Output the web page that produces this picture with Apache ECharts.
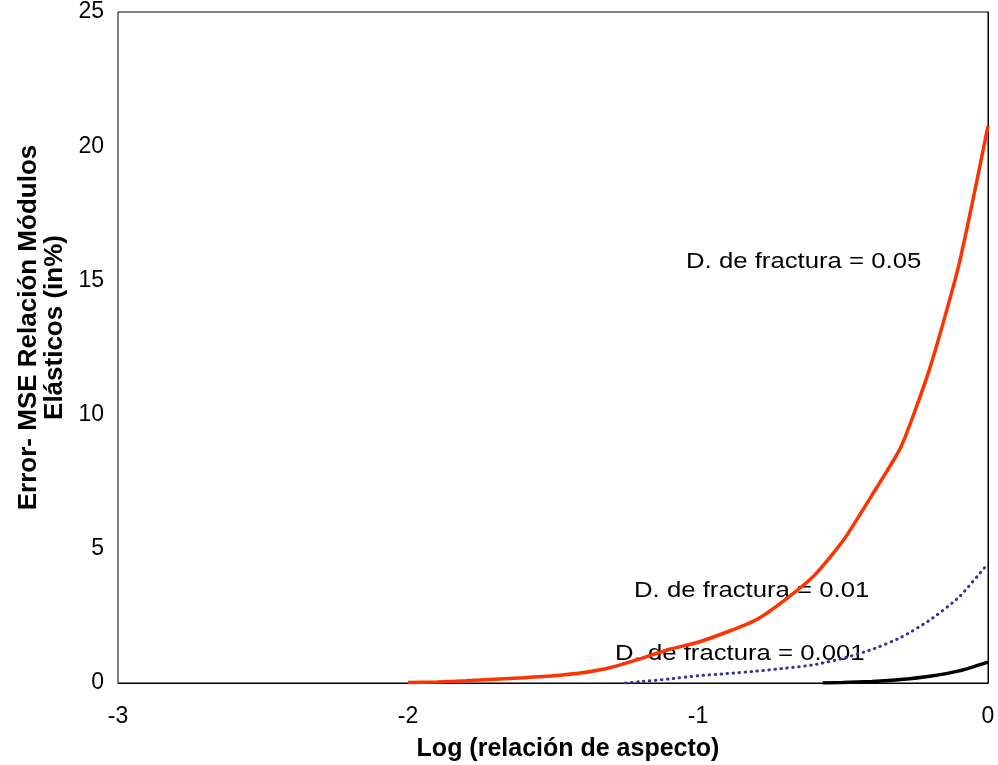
<!DOCTYPE html>
<html>
<head>
<meta charset="utf-8">
<title>Error MSE vs relación de aspecto</title>
<script src="https://cdn.jsdelivr.net/npm/echarts@6/dist/echarts.min.js"></script>
<style>
  html, body { margin: 0; padding: 0; background: #fff; }
  #chart { width: 998px; height: 765px; }
</style>
</head>
<body>
<div id="chart"></div>
<script>
// Log of aspect ratio (x) and MSE error in % (y) for three fracture densities
const xFrac005 = [-2.0, -1.9, -1.8, -1.7, -1.6, -1.5, -1.4, -1.3, -1.2, -1.1, -1.0, -0.9, -0.8, -0.7, -0.6, -0.5, -0.4, -0.3, -0.2, -0.1, 0];
const yFrac005 = [0.02, 0.04, 0.08, 0.14, 0.2, 0.27, 0.38, 0.58, 0.9, 1.25, 1.52, 1.9, 2.35, 3.1, 4.0, 5.3, 7.0, 8.8, 11.75, 15.6, 20.75];

const xFrac001 = [-1.25, -1.2, -1.1, -1.0, -0.9, -0.8, -0.7, -0.6, -0.5, -0.4, -0.3, -0.2, -0.1, 0];
const yFrac001 = [0, 0.05, 0.15, 0.27, 0.35, 0.44, 0.55, 0.68, 0.92, 1.25, 1.7, 2.35, 3.2, 4.45];

const xFrac0001 = [-0.57, -0.5, -0.4, -0.3, -0.2, -0.1, 0];
const yFrac0001 = [0, 0.02, 0.06, 0.13, 0.25, 0.45, 0.78];

const curveLabels = ['D. de fractura = 0.05', 'D. de fractura = 0.01', 'D. de fractura = 0.001'];

const pairs = (xs, ys) => xs.map((x, i) => [x, ys[i]]);

const FONT = '"Liberation Sans", Arial, sans-serif';

const chart = echarts.init(document.getElementById('chart'), null, { renderer: 'canvas' });

// curve annotations: slightly widened regular text
const note = (text, x, y) => ({
  type: 'text', x: x, y: y, scaleX: 1.17, scaleY: 1,
  style: { text: text, font: '22px ' + FONT, fill: '#000' }
});

chart.setOption({
  backgroundColor: '#ffffff',
  animation: false,
  grid: {
    left: 118, right: 10, top: 12, bottom: 82,
    show: true, borderColor: '#000', borderWidth: 1,
    containLabel: false, outerBoundsMode: 'none'
  },
  xAxis: {
    type: 'value', min: -3, max: 0, interval: 1,
    name: 'Log (relación de aspecto)',
    nameLocation: 'middle', nameGap: 54,
    nameTextStyle: { fontFamily: FONT, fontSize: 25, fontWeight: 'bold', color: '#000', padding: [0, 0, 0, 30] },
    axisLine: { show: true, lineStyle: { color: '#000', width: 1 } },
    axisTick: { show: false },
    splitLine: { show: false },
    axisLabel: { fontFamily: FONT, fontSize: 23, color: '#000', margin: 22 }
  },
  yAxis: {
    type: 'value', min: 0, max: 25, interval: 5,
    name: 'Error- MSE Relación Módulos\nElásticos (in%)',
    nameLocation: 'middle', nameGap: 50, nameRotate: 90, nameMoveOverlap: false,
    nameTextStyle: { fontFamily: FONT, fontSize: 26, fontWeight: 'bold', color: '#000', lineHeight: 26, padding: [0, 0, 0, 40] },
    axisLine: { show: true, lineStyle: { color: '#000', width: 1 } },
    axisTick: { show: false },
    splitLine: { show: false },
    axisLabel: { fontFamily: FONT, fontSize: 23, color: '#000', margin: 14 }
  },
  series: [
    {
      name: curveLabels[0], type: 'line', data: pairs(xFrac005, yFrac005),
      showSymbol: false, smooth: 0.2,
      lineStyle: { color: '#ff3300', width: 3.5 }
    },
    {
      name: curveLabels[1], type: 'line', data: pairs(xFrac001, yFrac001),
      showSymbol: false, smooth: 0.2,
      lineStyle: { color: '#33339a', width: 3, type: [0.5, 5.5], cap: 'round' }
    },
    {
      name: curveLabels[2], type: 'line', data: pairs(xFrac0001, yFrac0001),
      showSymbol: false, smooth: 0.2,
      lineStyle: { color: '#000000', width: 3.5 }
    }
  ],
  graphic: [
    note(curveLabels[0], 686, 251),
    note(curveLabels[1], 634, 580),
    note(curveLabels[2], 615, 643)
  ]
});
</script>
</body>
</html>
